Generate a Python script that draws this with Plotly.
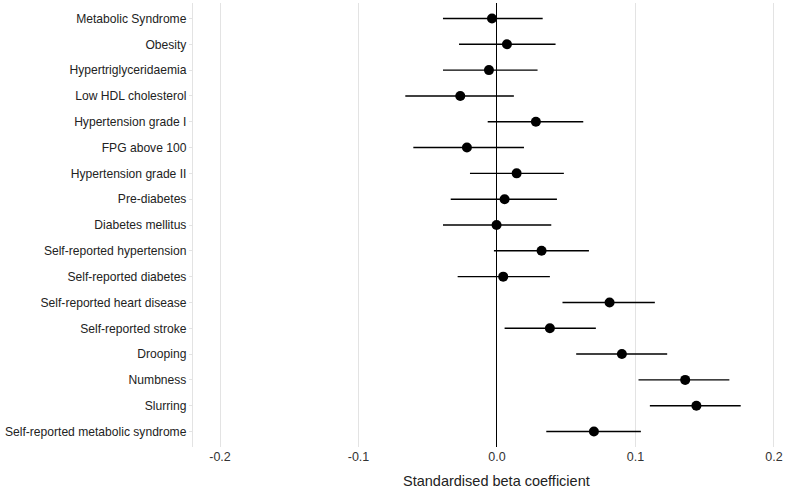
import plotly.graph_objects as go

categories = [
    "Metabolic Syndrome", "Obesity", "Hypertriglyceridaemia", "Low HDL cholesterol",
    "Hypertension grade I", "FPG above 100", "Hypertension grade II", "Pre-diabetes",
    "Diabetes mellitus", "Self-reported hypertension", "Self-reported diabetes",
    "Self-reported heart disease", "Self-reported stroke", "Drooping", "Numbness",
    "Slurring", "Self-reported metabolic syndrome",
]
beta = [-0.0036, 0.0072, -0.0058, -0.0265, 0.0281, -0.0217, 0.0142, 0.0055,
        -0.0003, 0.0322, 0.0045, 0.0813, 0.0382, 0.0902, 0.1359, 0.1440, 0.0700]
ci_low = [-0.0390, -0.0274, -0.0390, -0.0662, -0.0067, -0.0604, -0.0195, -0.0334,
          -0.0390, -0.0022, -0.0284, 0.0473, 0.0055, 0.0572, 0.1022, 0.1104, 0.0356]
ci_high = [0.0330, 0.0423, 0.0293, 0.0122, 0.0623, 0.0195, 0.0483, 0.0433,
           0.0392, 0.0664, 0.0382, 0.1140, 0.0714, 0.1229, 0.1678, 0.1760, 0.1039]
tick_vals = [-0.2, -0.1, 0.0, 0.1, 0.2]
tick_text = ["-0.2", "-0.1", "0.0", "0.1", "0.2"]
x_title = "Standardised beta coefficient"

err_plus = [h - b for h, b in zip(ci_high, beta)]
err_minus = [b - l for b, l in zip(beta, ci_low)]

fig = go.Figure()
fig.add_trace(go.Scatter(
    x=beta, y=categories, mode="markers",
    marker=dict(color="black", size=10),
    error_x=dict(type="data", array=err_plus, arrayminus=err_minus,
                 width=0, thickness=1.4, color="black"),
    showlegend=False,
))

fig.update_layout(
    width=786, height=489,
    margin=dict(l=193, r=0, t=3, b=42),
    plot_bgcolor="white", paper_bgcolor="white",
    font=dict(family="Liberation Sans, Arial, sans-serif", color="#222222"),
    xaxis=dict(
        range=[-0.2195, 0.2087],
        tickvals=tick_vals, ticktext=tick_text,
        showgrid=True, gridcolor="#e3e3e3", gridwidth=1.3,
        zeroline=True, zerolinecolor="black", zerolinewidth=1.3,
        showline=False, ticks="",
        automargin=False,
        tickfont=dict(size=12.5, color="#333333"),
    ),
    yaxis=dict(
        categoryorder="array", categoryarray=categories,
        range=[16.6, -0.6],
        automargin=False,
        showgrid=False, zeroline=False,
        showline=True, linecolor="#e3e3e3", linewidth=1.3,
        ticks="outside", ticklen=3, tickcolor="#e3e3e3",
        tickfont=dict(size=12.1, color="#222222"),
    ),
    annotations=[dict(
        text=x_title, xref="x", yref="paper", x=0.0, y=0, xanchor="center",
        yanchor="top", yshift=-24, showarrow=False,
        font=dict(size=14.5, color="#222222"),
    )],
)

fig.write_html("out.html", config={"displayModeBar": False},
               post_script="document.body.style.margin='0px';")
